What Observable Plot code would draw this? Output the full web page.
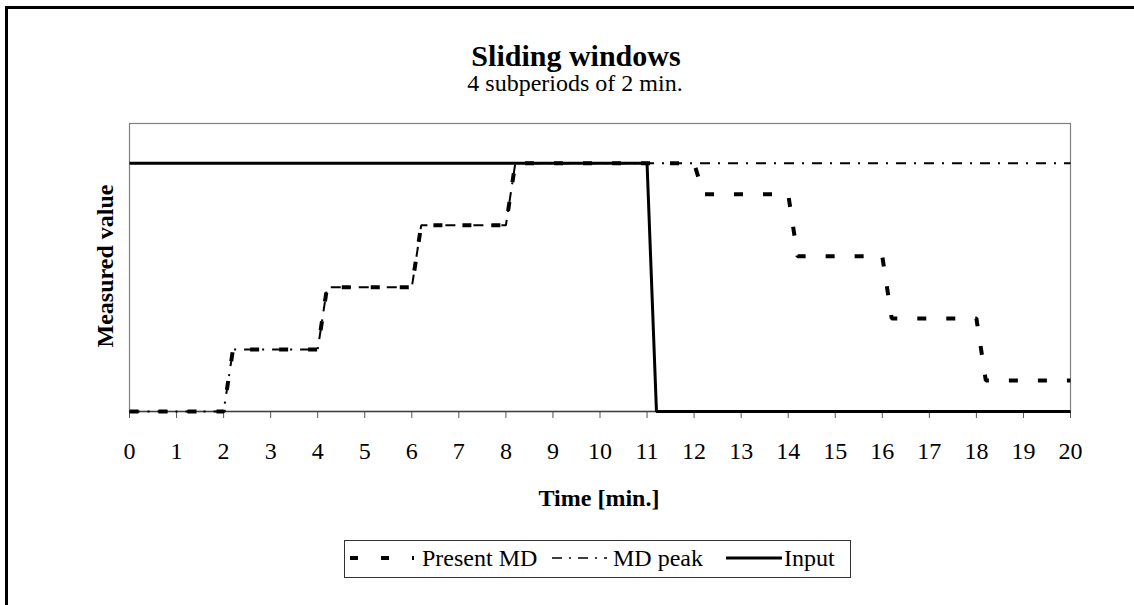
<!DOCTYPE html>
<html>
<head>
<meta charset="utf-8">
<script src="https://cdn.jsdelivr.net/npm/d3@7"></script>
<script src="https://cdn.jsdelivr.net/npm/@observablehq/plot@0.6"></script>
<style>
  html, body { margin: 0; padding: 0; background: #fff; overflow: hidden; }
  #page { position: relative; width: 1134px; height: 605px; overflow: hidden; font-family: "Liberation Serif", "Times New Roman", serif; color: #000; }
  #outer { position: absolute; left: 5px; top: 6px; width: 1300px; height: 800px; border-left: 3px solid #000; border-top: 3px solid #000; }
  #chart { position: absolute; left: 0; top: 0; }
  .txt { position: absolute; white-space: nowrap; line-height: 1; }
  #overlay { position: absolute; left: 0; top: 0; pointer-events: none; }
</style>
</head>
<body>
<div id="page">
  <div id="outer"></div>
  <div id="chart"></div>
  <svg id="overlay" width="1134" height="605"></svg>
</div>
<script>
// ---- data ----
const xTicks = [0,1,2,3,4,5,6,7,8,9,10,11,12,13,14,15,16,17,18,19,20];

const presentT = [0, 2, 2.2, 4, 4.2, 6, 6.2, 8, 8.2, 12, 12.2, 14, 14.2, 16, 16.2, 18, 18.2, 20];
const presentV = [0, 0, 1,   1, 2,   2, 3,   3, 4,   4,  3.5,  3.5, 2.5, 2.5, 1.5, 1.5, 0.5, 0.5];

const peakT = [0, 2, 2.2, 4, 4.2, 6, 6.2, 8, 8.2, 20];
const peakV = [0, 0, 1,   1, 2,   2, 3,   3, 4,   4];

const inputT = [0, 11, 11.2, 20];
const inputV = [4, 4,  0,    0];

const seriesNames = ["Present MD", "MD peak", "Input"];
const titleText = "Sliding windows";
const subtitleText = "4 subperiods of 2 min.";
const xLabel = "Time [min.]";
const yLabel = "Measured value";

const zip = (ts, vs) => ts.map((t, i) => ({t, v: vs[i]}));
const present = zip(presentT, presentV);
const peak = zip(peakT, peakV);
const input = zip(inputT, inputV);

const font = "'Liberation Serif', 'Times New Roman', serif";

const chart = Plot.plot({
  width: 1134,
  height: 480,
  marginLeft: 129,
  marginRight: 64,
  marginTop: 123,
  marginBottom: 69,
  style: { fontFamily: font, background: "transparent", overflow: "visible" },
  x: { domain: [0, 20] },
  y: { domain: [0, 4.64], axis: null },
  marks: [
    Plot.frame({ stroke: "#808080", strokeWidth: 1.2 }),
    Plot.axisX({ ticks: xTicks, tickSize: 7, tickPadding: 23, fontSize: 24, stroke: "#555", fill: "#000", label: null, tickFormat: d => String(d) }),
    Plot.ruleY([0], { stroke: "#404040", strokeWidth: 1.6 }),
    Plot.line(present, { x: "t", y: "v", stroke: "#000", strokeWidth: 4, strokeDasharray: "9,20", strokeLinecap: "butt", strokeLinejoin: "miter" }),
    Plot.line(peak, { x: "t", y: "v", stroke: "#000", strokeWidth: 2, strokeDasharray: "10,8,2,8", strokeLinecap: "butt", strokeLinejoin: "miter" }),
    Plot.line(input, { x: "t", y: "v", stroke: "#000", strokeWidth: 3, strokeLinecap: "butt", strokeLinejoin: "miter" })
  ]
});
document.getElementById("chart").appendChild(chart);

// ---- titles, axis labels and legend ----
const ov = d3.select("#overlay");
ov.append("text").attr("x", 576).attr("y", 66).attr("text-anchor", "middle")
  .attr("font-family", font).attr("font-size", 30).attr("font-weight", "bold").text(titleText);
ov.append("text").attr("x", 575).attr("y", 91).attr("text-anchor", "middle")
  .attr("font-family", font).attr("font-size", 24).text(subtitleText);
ov.append("text").attr("x", 599).attr("y", 506).attr("text-anchor", "middle")
  .attr("font-family", font).attr("font-size", 24).attr("font-weight", "bold").text(xLabel);
ov.append("text").attr("transform", "translate(113,266) rotate(-90)").attr("text-anchor", "middle")
  .attr("font-family", font).attr("font-size", 24).attr("font-weight", "bold").text(yLabel);

// legend box
ov.append("rect").attr("x", 344.5).attr("y", 540.5).attr("width", 506).attr("height", 37)
  .attr("fill", "#fff").attr("stroke", "#333").attr("stroke-width", 1);
const legY = 558;
const items = [
  { name: seriesNames[0], x1: 350, x2: 414, tx: 422, w: 4, dash: "8,23" },
  { name: seriesNames[1], x1: 552, x2: 607, tx: 613, w: 1.6, dash: "10,7,2,7" },
  { name: seriesNames[2], x1: 726, x2: 782, tx: 784, w: 3, dash: null }
];
items.forEach(it => {
  const l = ov.append("line").attr("x1", it.x1).attr("x2", it.x2).attr("y1", legY).attr("y2", legY)
    .attr("stroke", "#000").attr("stroke-width", it.w);
  if (it.dash) l.attr("stroke-dasharray", it.dash);
  ov.append("text").attr("x", it.tx).attr("y", legY + 8).attr("font-family", font).attr("font-size", 24).text(it.name);
});
</script>
</body>
</html>
